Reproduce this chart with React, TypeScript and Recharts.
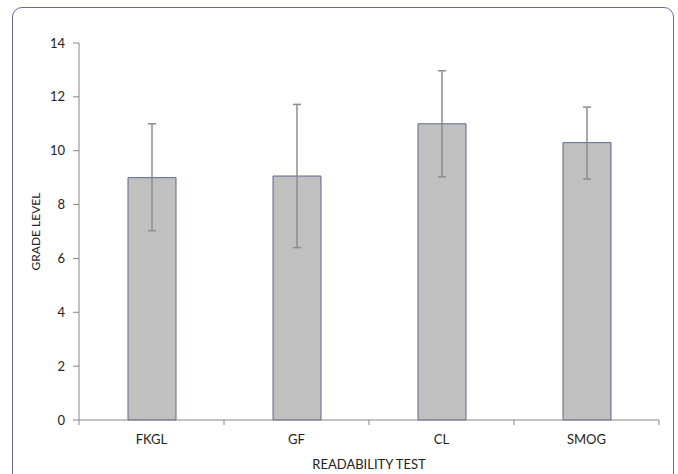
import { Bar, BarChart, ErrorBar, XAxis, YAxis } from 'recharts';

const categories = ['FKGL', 'GF', 'CL', 'SMOG'];
const gradeLevels = [9.0, 9.06, 11.0, 10.3];
const errorLow = [1.97, 2.66, 1.97, 1.35];
const errorHigh = [2.0, 2.66, 1.97, 1.32];
const yTicks = [0, 2, 4, 6, 8, 10, 12, 14];

const data = categories.map((name, i) => ({
  name,
  grade: gradeLevels[i],
  err: [errorLow[i], errorHigh[i]]
}));

const CHART_W = 678;
const CHART_H = 474;
const MARGIN = { top: 43, right: 19, bottom: 0, left: 0 };
const Y_AXIS_W = 79;
const X_AXIS_H = 54;
const AXIS_Y = CHART_H - X_AXIS_H;
const BAND = (CHART_W - MARGIN.left - MARGIN.right - Y_AXIS_W) / categories.length;
const FONT = 'Lato, "Open Sans", sans-serif';
const AXIS_COLOR = '#868686';

function CategoryTick(props: any) {
  const { x, index, payload } = props;
  const left = x - BAND / 2;
  const right = x + BAND / 2;
  return (
    <g>
      <line x1={left} y1={AXIS_Y} x2={left} y2={AXIS_Y + 5} stroke={AXIS_COLOR} />
      {index === categories.length - 1 && (
        <line x1={right} y1={AXIS_Y} x2={right} y2={AXIS_Y + 5} stroke={AXIS_COLOR} />
      )}
      <text x={x} y={AXIS_Y + 24} textAnchor="middle" fontSize={13} fill="#222" fontFamily={FONT}>
        {payload.value}
      </text>
    </g>
  );
}

export default function App() {
  return (
    <div
      style={{
        position: 'absolute',
        left: 0,
        top: 0,
        width: CHART_W,
        height: CHART_H,
        overflow: 'hidden',
        background: '#fff',
        fontFamily: FONT
      }}
    >
      <div
        style={{
          position: 'absolute',
          left: 12,
          top: 7,
          width: 660,
          height: 520,
          border: '1.5px solid #6a66a6',
          borderRadius: 10
        }}
      />
      <div style={{ position: 'absolute', left: 0, top: 0 }}>
        <BarChart width={CHART_W} height={CHART_H} data={data} margin={MARGIN}>
          <XAxis
            dataKey="name"
            height={X_AXIS_H}
            stroke={AXIS_COLOR}
            tickLine={false}
            tick={<CategoryTick />}
            interval={0}
            label={{
              value: 'READABILITY TEST',
              position: 'insideBottom',
              offset: 5,
              style: { fontSize: 13, fill: '#222', fontFamily: FONT }
            }}
          />
          <YAxis
            width={Y_AXIS_W}
            domain={[0, 14]}
            ticks={yTicks}
            interval={0}
            stroke={AXIS_COLOR}
            tickSize={6}
            tickMargin={8}
            tick={{ fontSize: 13, fill: '#222', fontFamily: FONT }}
            label={{
              value: 'GRADE LEVEL',
              angle: -90,
              position: 'insideLeft',
              offset: 36,
              style: { fontSize: 12, fill: '#222', fontFamily: FONT, textAnchor: 'middle' }
            }}
          />
          <Bar dataKey="grade" fill="#c0c0c0" stroke="#5a6890" strokeWidth={1} barSize={48} isAnimationActive={false}>
            <ErrorBar dataKey="err" width={4} stroke="#8c8c8c" strokeWidth={1.5} direction="y" />
          </Bar>
        </BarChart>
      </div>
    </div>
  );
}
